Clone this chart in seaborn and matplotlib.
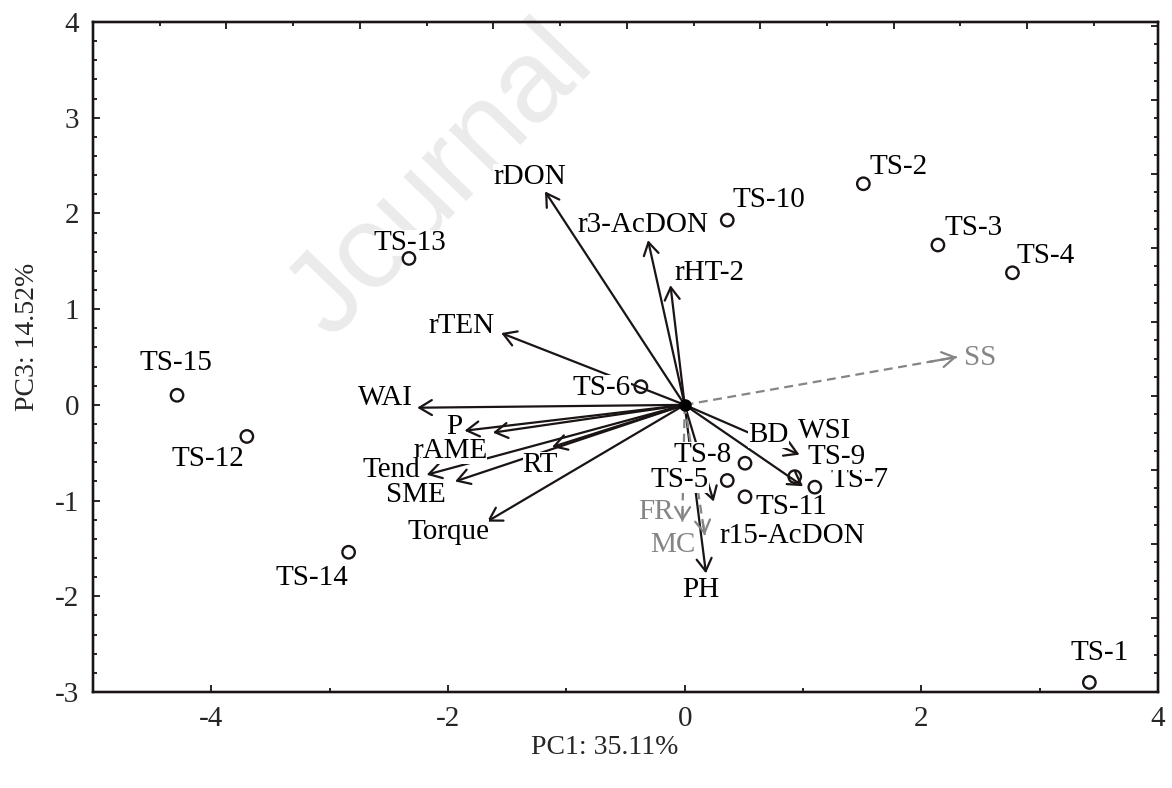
import matplotlib
matplotlib.use('Agg')
import matplotlib.pyplot as plt
from matplotlib.ticker import MultipleLocator
import seaborn as sns

# sample scores (PC1, PC3)
samples = ['TS-1', 'TS-2', 'TS-3', 'TS-4', 'TS-5', 'TS-6', 'TS-7', 'TS-8',
           'TS-9', 'TS-10', 'TS-11', 'TS-12', 'TS-13', 'TS-14', 'TS-15']
pc1 = [3.42, 1.51, 2.14, 2.77, 0.36, -0.37, 1.10, 0.51,
       0.93, 0.36, 0.51, -3.70, -2.33, -2.84, -4.29]
pc3 = [-2.90, 2.31, 1.67, 1.38, -0.79, 0.19, -0.86, -0.61,
       -0.75, 1.93, -0.96, -0.33, 1.53, -1.54, 0.10]
# where the sample names sit
sample_lab_x = [3.51, 1.81, 2.44, 3.05, -0.04, -0.70, 1.48, 0.15,
                1.28, 0.71, 0.90, -4.03, -2.32, -3.15, -4.30]
sample_lab_y = [-2.59, 2.49, 1.85, 1.55, -0.78, 0.18, -0.79, -0.52,
                -0.55, 2.14, -1.07, -0.57, 1.69, -1.81, 0.44]

# variable loadings (arrow tips)
variables = ['rDON', 'r3-AcDON', 'rHT-2', 'rTEN', 'WAI', 'P', 'rAME', 'Tend',
             'SME', 'RT', 'Torque', 'BD', 'WSI', 'r15-AcDON', 'PH',
             'FR', 'MC', 'SS']
load_x = [-1.18, -0.31, -0.12, -1.55, -2.26, -1.86, -1.62, -2.18,
          -1.94, -1.12, -1.67, 1.00, 0.97, 0.245, 0.18,
          -0.02, 0.17, 2.30]
load_y = [2.23, 1.72, 1.25, 0.75, -0.03, -0.27, -0.29, -0.73,
          -0.80, -0.44, -1.22, -0.85, -0.52, -1.01, -1.76,
          -1.22, -1.36, 0.50]
var_lab_x = [-1.31, -0.35, 0.21, -1.89, -2.53, -1.95, -1.98, -2.48,
             -2.27, -1.22, -2.00, 0.71, 1.18, 0.91, 0.14,
             -0.24, -0.10, 2.50]
var_lab_y = [2.38, 1.88, 1.38, 0.82, 0.07, -0.23, -0.48, -0.68,
             -0.94, -0.63, -1.33, -0.31, -0.27, -1.37, -1.93,
             -1.12, -1.46, 0.49]
supplementary = ['FR', 'MC', 'SS']

sns.set_style('ticks')
plt.rcParams['font.family'] = ['Liberation Serif', 'DejaVu Serif']
plt.rcParams['font.size'] = 21
plt.rcParams['axes.unicode_minus'] = False

fig = plt.figure(figsize=(11.72, 7.88), dpi=100)
ax = fig.add_axes([93 / 1172, 1 - 692 / 788, 1065 / 1172, 670 / 788])
ax.patch.set_alpha(0)

# preprint watermark (only its first word shows inside the crop)
fig.text(330 / 1172, 1 - 340 / 788, 'Journal', family='Liberation Sans',
         fontsize=84, color='#ebebeb', rotation=46, rotation_mode='anchor',
         ha='left', va='baseline', zorder=-5)

gray = '#858585'
for name, x, y in zip(variables, load_x, load_y):
    if name in supplementary:
        ax.plot([0, x], [0, y], color=gray, lw=1.6, ls=(0, (4, 2.5)), zorder=2)
        ax.annotate('', xy=(x, y), xytext=(x * 0.9, y * 0.9),
                    arrowprops=dict(arrowstyle='->,head_length=0.5,head_width=0.3',
                                    color=gray, lw=1.6, shrinkA=0, shrinkB=0,
                                    mutation_scale=18), zorder=2)
    else:
        ax.annotate('', xy=(x, y), xytext=(0, 0),
                    arrowprops=dict(arrowstyle='->,head_length=0.5,head_width=0.3',
                                    color='#1a1414', lw=1.6, shrinkA=0, shrinkB=0,
                                    mutation_scale=18), zorder=2)

for name, x, y in zip(variables, var_lab_x, var_lab_y):
    c = gray if name in supplementary else 'black'
    ax.text(x, y, name, ha='center', va='center', color=c, zorder=3,
            bbox=dict(fc='white', ec='none', pad=0))

for name, x, y in zip(samples, sample_lab_x, sample_lab_y):
    ax.text(x, y, name, ha='center', va='center', color='black', zorder=3,
            bbox=dict(fc='white', ec='none', pad=0))

sns.scatterplot(x=pc1, y=pc3, ax=ax, marker='o', s=80, facecolor='none',
                edgecolor='#1a1414', linewidth=1.7, zorder=4)
ax.plot(0, 0, 'o', color='black', ms=8, zorder=5)

ax.set_xlim(-5, 4)
ax.set_ylim(-3, 4)
ax.xaxis.set_major_locator(MultipleLocator(2))
ax.xaxis.set_minor_locator(MultipleLocator(1))
ax.yaxis.set_major_locator(MultipleLocator(1))
ax.yaxis.set_minor_locator(MultipleLocator(0.2))
ax.tick_params(which='both', direction='in', width=1.3, color='#1a1414', pad=10)
ax.tick_params(which='major', length=5)
ax.tick_params(which='minor', length=3)

# frame ticks on the top and right edges
top = ax.twiny()
top.set_xlim(0, 7.98)
top.xaxis.set_major_locator(MultipleLocator(1))
top.xaxis.set_minor_locator(MultipleLocator(0.5))
top.tick_params(which='both', direction='in', labeltop=False, width=1.3, color='#1a1414')
top.tick_params(which='major', length=5)
top.tick_params(which='minor', length=3)
right = ax.twinx()
right.set_ylim(0, 9.05)
right.yaxis.set_major_locator(MultipleLocator(1))
right.yaxis.set_minor_locator(MultipleLocator(0.25))
right.tick_params(which='both', direction='in', labelright=False, width=1.3, color='#1a1414')
right.tick_params(which='major', length=5)
right.tick_params(which='minor', length=3)

for a in (ax, top, right):
    for s in a.spines.values():
        s.set_linewidth(1.6)
        s.set_color('#1a1414')

ax.set_xlabel('PC1: 35.11%', fontsize=20)
ax.set_ylabel('PC3: 14.52%', fontsize=20)
ax.xaxis.set_label_coords(0.48, -0.064)
ax.yaxis.set_label_coords(-0.05, 0.53)

fig.savefig('out.png', dpi=100)
